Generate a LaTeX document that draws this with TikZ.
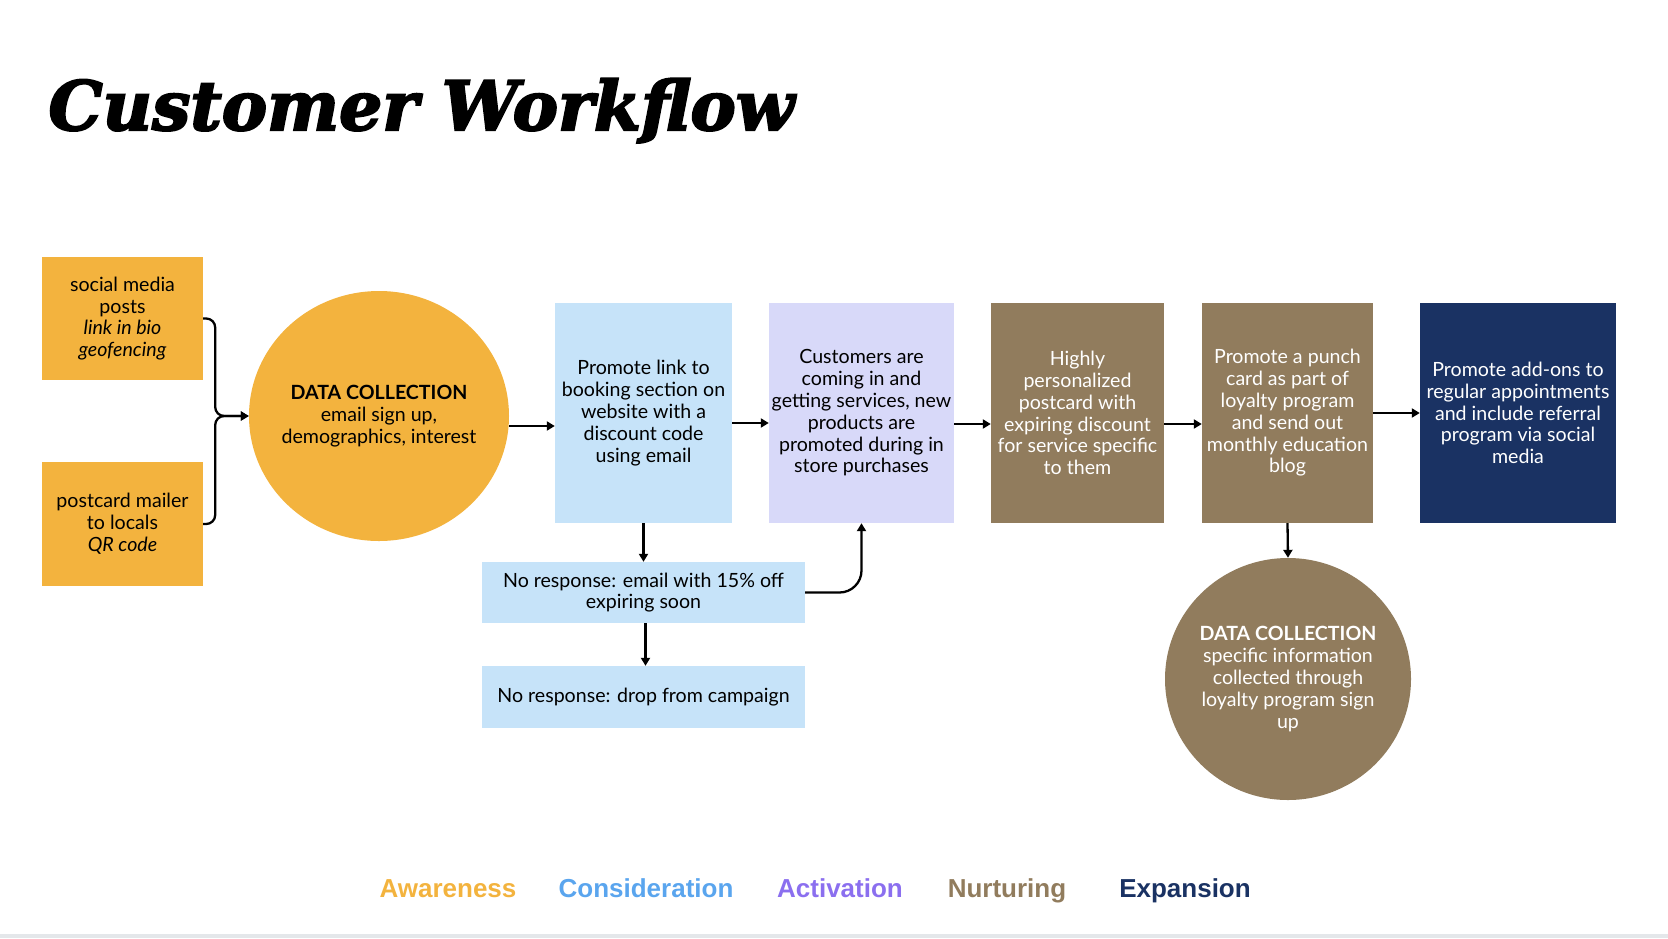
\documentclass[tikz,border=0pt]{standalone}
\usepackage{fontspec}
\setmainfont{Lato}
\newfontfamily\titlefont[FakeBold=3]{DejaVu Serif}
\newfontfamily\legendfont{Liberation Sans}
\usetikzlibrary{arrows.meta,shapes.geometric,positioning}
\definecolor{aware}{HTML}{F3B33E}
\definecolor{consid}{HTML}{C6E3F9}
\definecolor{activ}{HTML}{D8D9F9}
\definecolor{nurture}{HTML}{917C5D}
\definecolor{expand}{HTML}{1A3263}
\definecolor{considtxt}{HTML}{5AA5EE}
\definecolor{activtxt}{HTML}{8B6FEF}
\definecolor{bottomrule}{HTML}{E4E7EA}

\begin{document}
\begin{tikzpicture}[x=1pt,y=-1pt,
   font=\fontsize{19.6}{21.8}\selectfont,
   card/.style={rectangle,inner sep=0pt,align=center},
   blob/.style={ellipse,inner sep=-20pt,align=center},
   flow/.style={-{Triangle[length=8pt,width=9pt]},line width=2.3pt},
   legend/.style={anchor=base,font=\legendfont\bfseries\fontsize{26}{30}\selectfont}]
\useasboundingbox (0,0) rectangle (1668,938);
\fill[bottomrule] (0,934) rectangle (1668,938);
\node[anchor=base west,font=\titlefont\bfseries\itshape\fontsize{68}{74}\selectfont] (title) at (45,130) {Customer Workflow};
\node[card,fill=aware,minimum width=161,minimum height=123] (social) at (122.5,318.5) {social media\\posts\\\textit{link in bio}\\\textit{geofencing}};
\node[card,fill=aware,minimum width=161,minimum height=124] (mailer) at (122.5,524) {postcard mailer\\to locals\\\textit{QR code}};
\node[blob,fill=aware,minimum width=260,minimum height=250] (dc1) at (379,416) {\textbf{DATA COLLECTION}\\email sign up,\\demographics, interest};
\node[card,fill=consid,minimum width=177,minimum height=220] (promote) at (643.5,413) {Promote link to\\booking section on\\website with a\\discount code\\using email};
\node[card,fill=activ,minimum width=185,minimum height=220] (cust) at (861.5,413) {Customers are\\coming in and\\getting services, new\\products are\\promoted during in\\store purchases};
\node[card,fill=nurture,text=white,minimum width=173,minimum height=220] (postcard) at (1077.5,413) {Highly\\personalized\\postcard with\\expiring discount\\for service specific\\to them};
\node[card,fill=nurture,text=white,minimum width=171,minimum height=220] (punch) at (1287.5,413) {Promote a punch\\card as part of\\loyalty program\\and send out\\monthly education\\blog};
\node[card,fill=expand,text=white,minimum width=196,minimum height=220] (addon) at (1518,413) {Promote add-ons to\\regular appointments\\and include referral\\program via social\\media};
\node[card,fill=consid,minimum width=323,minimum height=61] (email) at (643.5,592.5) {No response: email with 15\% off\\expiring soon};
\node[card,fill=consid,minimum width=323,minimum height=62] (drop) at (643.5,697) {No response: drop from campaign};
\node[blob,fill=nurture,text=white,minimum width=246,minimum height=242] (dc2) at (1288,679) {\textbf{DATA COLLECTION}\\specific information\\collected through\\loyalty program sign\\up};
\draw[flow,rounded corners=9pt] (social.east) -- ++(12,0) |- (dc1.west);
\draw[flow,rounded corners=9pt] (mailer.east) -- ++(12,0) |- (dc1.west);
\draw[flow] ([yshift=-10pt]dc1.east) -- ([yshift=-10pt]dc1.east -| promote.west);
\draw[flow] ([yshift=-10pt]promote.east) -- ([yshift=-10pt]cust.west);
\draw[flow] ([yshift=-11pt]cust.east) -- ([yshift=-11pt]postcard.west);
\draw[flow] ([yshift=-11pt]postcard.east) -- ([yshift=-11pt]punch.west);
\draw[flow] (punch.east) -- (addon.west);
\draw[flow] (promote.south) -- (email.north);
\draw[flow] ([xshift=2pt]email.south) -- ([xshift=2pt]drop.north);
\draw[flow,rounded corners=22pt] (email.east) -| (cust.south);
\draw[flow] (punch.south) -- (dc2.north);
\node[legend,text=aware] (aw) at (448,897) {Awareness};
\node[legend,text=considtxt] (co) at (646,897) {Consideration};
\node[legend,text=activtxt] (ac) at (840,897) {Activation};
\node[legend,text=nurture] (nu) at (1007,897) {Nurturing};
\node[legend,text=expand] (ex) at (1185,897) {Expansion};
\end{tikzpicture}
\end{document}
